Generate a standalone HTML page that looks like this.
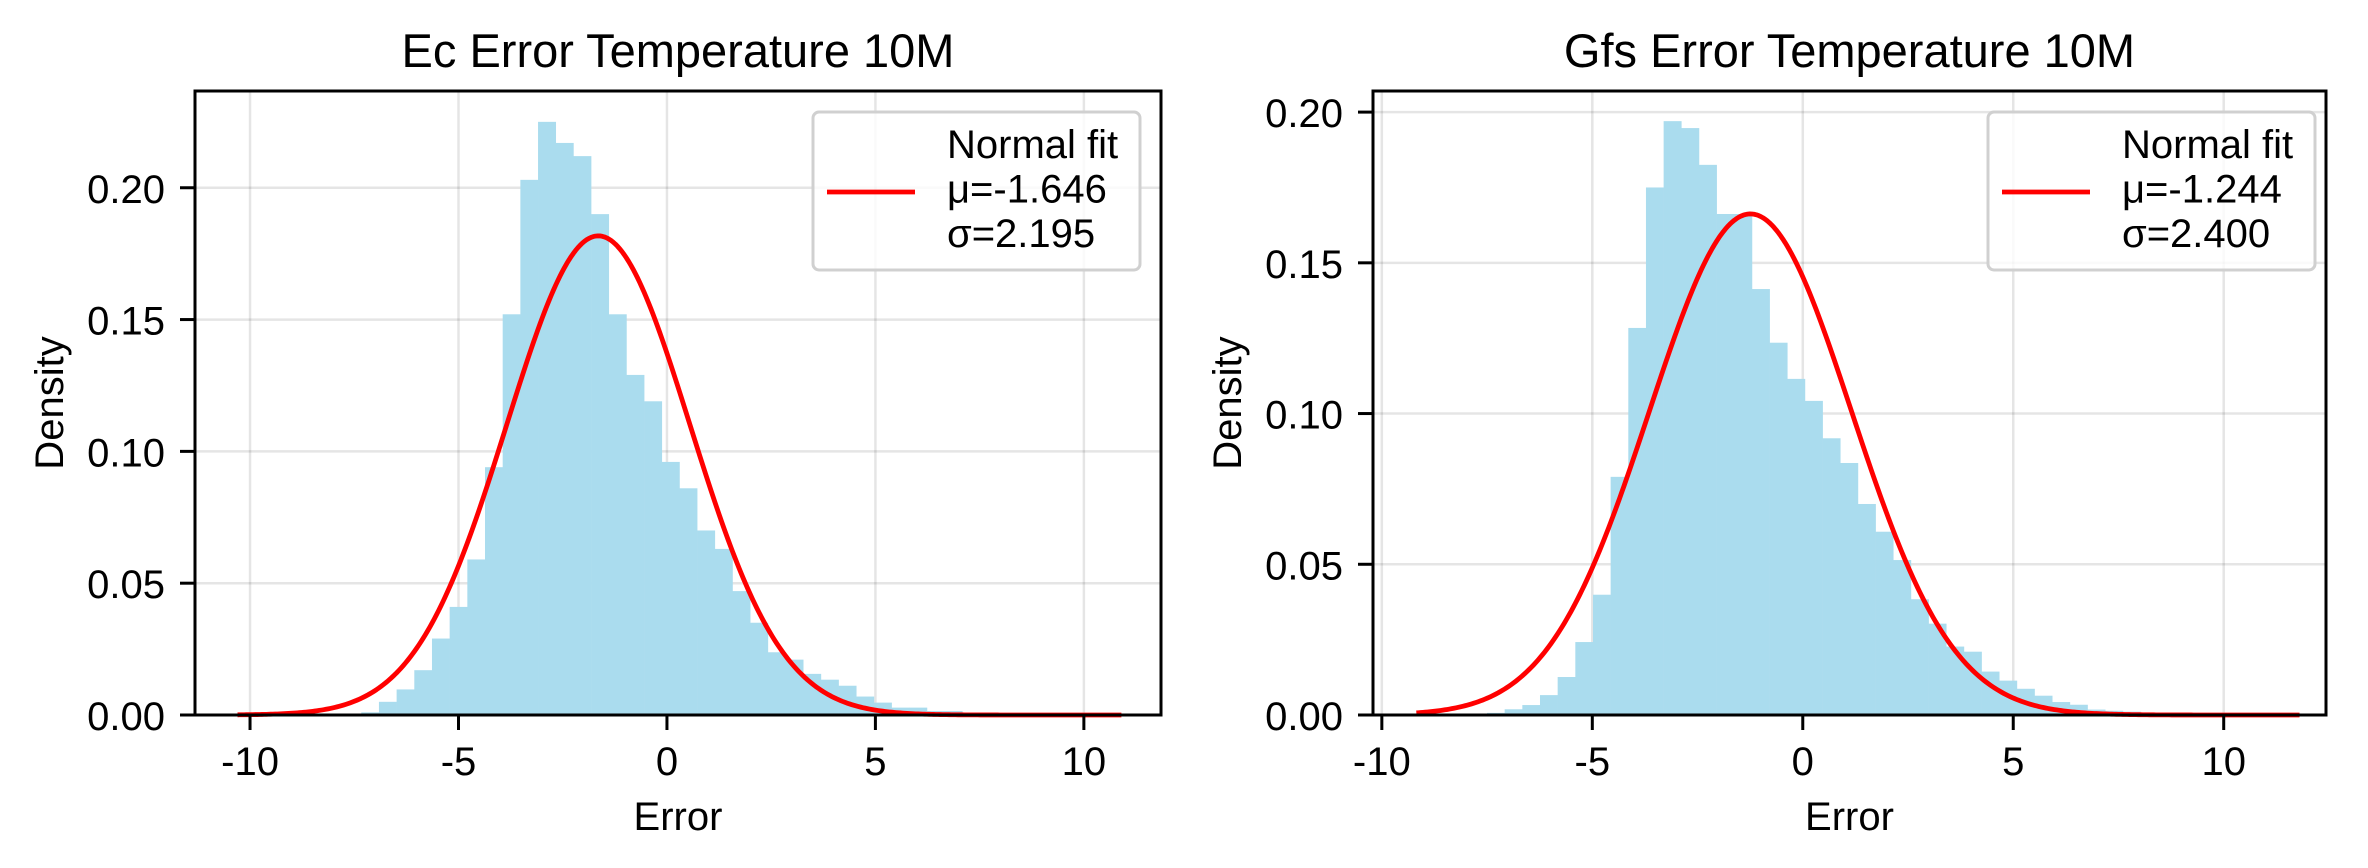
<!DOCTYPE html>
<html><head><meta charset="utf-8"><style>
html,body{margin:0;padding:0;background:#fff;}
svg{display:block;font-family:"Liberation Sans","DejaVu Sans",sans-serif;}
</style></head><body>
<svg id="fig" width="2368" height="868" viewBox="0 0 2368 868" xmlns="http://www.w3.org/2000/svg"></svg>
<script>
// ---- data ----
const ecBinStart = -10.3;
const ecBinWidth = 0.424;
const ecDensity = [0,0,0,0,0,0,0.0003,0.001,0.005,0.0097,0.017,0.029,0.041,0.059,0.094,0.152,0.203,0.225,0.217,0.212,0.190,0.152,0.129,0.119,0.096,0.086,0.070,0.063,0.047,0.035,0.0238,0.021,0.0156,0.0134,0.0111,0.0070,0.0047,0.0028,0.0028,0.0015,0.0015,0.0008,0.0003,0.0003,0.0002,0.0001,0.0001,0,0,0.0001];
const ecFit = {mu:-1.646, sigma:2.195, min:-10.3, max:10.9};
const gfsBinStart = -9.18;
const gfsBinWidth = 0.4196;
const gfsDensity = [0,0,0,0,0.0007,0.0019,0.0033,0.0066,0.0126,0.0242,0.0399,0.079,0.1284,0.175,0.197,0.1947,0.1825,0.1662,0.1662,0.1413,0.1235,0.1115,0.1042,0.0918,0.0836,0.070,0.0608,0.0514,0.0384,0.0303,0.0227,0.021,0.0144,0.0114,0.0087,0.0064,0.0043,0.0034,0.0018,0.0014,0.0011,0.0006,0.0003,0.0003,0.0002,0.0001,0.0001,0,0,0.0001];
const gfsFit = {mu:-1.244, sigma:2.400, min:-9.18, max:11.8};
const xTicks = [-10,-5,0,5,10];
const ecYTicks = [0,0.05,0.10,0.15,0.20];
const gfsYTicks = [0,0.05,0.10,0.15,0.20];

const NS = "http://www.w3.org/2000/svg";
const svg = document.getElementById('fig');
function mk(tag, attrs, parent){ const e=document.createElementNS(NS,tag); for(const k in attrs) e.setAttribute(k,attrs[k]); (parent||svg).appendChild(e); return e; }

function panel(cfg){
  const g = mk('g',{});
  
  
  const X = v => cfg.x0 + (v - cfg.xmin)/(cfg.xmax-cfg.xmin)*(cfg.x1-cfg.x0);
  const Y = v => cfg.y1 - (v - 0)/(cfg.ymax)*(cfg.y1-cfg.y0);
  cfg.xTicks.forEach(t=>{ const l=mk('line',{x1:X(t),x2:X(t),y1:cfg.y0,y2:cfg.y1,stroke:'#000','stroke-opacity':0.1,'stroke-width':2.5},g);
      });
  cfg.yTicks.forEach(t=>{ const l=mk('line',{x1:cfg.x0,x2:cfg.x1,y1:Y(t),y2:Y(t),stroke:'#000','stroke-opacity':0.1,'stroke-width':2.5},g);
      });
  cfg.dens.forEach((d,i)=>{ if(d<=0) return;
    const a=cfg.binStart+i*cfg.binWidth, b=a+cfg.binWidth;
    const r=mk('rect',{x:X(a),y:Y(d),width:X(b)-X(a)+0.3,height:Y(0)-Y(d),fill:'rgb(170,220,238)'},g);
      });
  let pts=[]; const n=400;
  for(let k=0;k<=n;k++){ const x=cfg.fit.min+(cfg.fit.max-cfg.fit.min)*k/n;
    const y=Math.exp(-0.5*Math.pow((x-cfg.fit.mu)/cfg.fit.sigma,2))/(cfg.fit.sigma*Math.sqrt(2*Math.PI));
    pts.push(X(x).toFixed(2)+','+Y(y).toFixed(2)); }
  const c=mk('polyline',{points:pts.join(' '),fill:'none',stroke:'#ff0000','stroke-width':4.8,'stroke-linejoin':'round'},g);
   
  const f=mk('rect',{x:cfg.x0,y:cfg.y0,width:cfg.x1-cfg.x0,height:cfg.y1-cfg.y0,fill:'none',stroke:'#000','stroke-width':3},g);
   
  cfg.xTicks.forEach(t=>{ mk('line',{x1:X(t),x2:X(t),y1:cfg.y1,y2:cfg.y1+15,stroke:'#000','stroke-width':3},g);
    const tx=mk('text',{x:X(t),y:cfg.y1+60,'font-size':40,'text-anchor':'middle',fill:'#000'},g); tx.textContent=String(t);
      });
  cfg.yTicks.forEach(t=>{ mk('line',{x1:cfg.x0-15,x2:cfg.x0,y1:Y(t),y2:Y(t),stroke:'#000','stroke-width':3},g);
    const tx=mk('text',{x:cfg.x0-30,y:Y(t)+15,'font-size':40,'text-anchor':'end',fill:'#000'},g); tx.textContent=t.toFixed(2);
      });
  const tt=mk('text',{x:(cfg.x0+cfg.x1)/2,y:67,'font-size':47,'text-anchor':'middle',fill:'#000'},g); tt.textContent=cfg.title;
   
  const xl=mk('text',{x:(cfg.x0+cfg.x1)/2,y:830,'font-size':40,'text-anchor':'middle',fill:'#000'},g); xl.textContent='Error';
   
  const yx=cfg.x0-132, yy=(cfg.y0+cfg.y1)/2;
  const yl=mk('text',{x:yx,y:yy,'font-size':40,'text-anchor':'middle',fill:'#000',transform:`rotate(-90 ${yx} ${yy})`},g); yl.textContent='Density';
   
  const lg=mk('g',{},g);
   
  mk('rect',{x:cfg.lx,y:112,width:327,height:158,rx:6,fill:'#fff','fill-opacity':0.8,stroke:'#d0d0d0','stroke-width':3},lg);
  mk('line',{x1:cfg.lx+14,x2:cfg.lx+102,y1:192,y2:192,stroke:'#ff0000','stroke-width':4.8},lg);
  [ 'Normal fit', 'μ='+cfg.fit.mu.toFixed(3), 'σ='+cfg.fit.sigma.toFixed(3) ].forEach((s,i)=>{
    const t=mk('text',{x:cfg.lx+134,y:158+i*44.5,'font-size':40,fill:'#000'},lg); t.textContent=s;
      });
}
panel({name:'ec-error-chart',title:'Ec Error Temperature 10M',x0:195,x1:1161,y0:91,y1:715,
  xmin:-11.32,xmax:11.85,ymax:0.2367,binStart:ecBinStart,binWidth:ecBinWidth,dens:ecDensity,fit:ecFit,
  xTicks:xTicks,yTicks:ecYTicks,lx:813});
panel({name:'gfs-error-chart',title:'Gfs Error Temperature 10M',x0:1373,x1:2326,y0:91,y1:715,
  xmin:-10.21,xmax:12.43,ymax:0.2070,binStart:gfsBinStart,binWidth:gfsBinWidth,dens:gfsDensity,fit:gfsFit,
  xTicks:xTicks,yTicks:gfsYTicks,lx:1988});
</script>
</body></html>
